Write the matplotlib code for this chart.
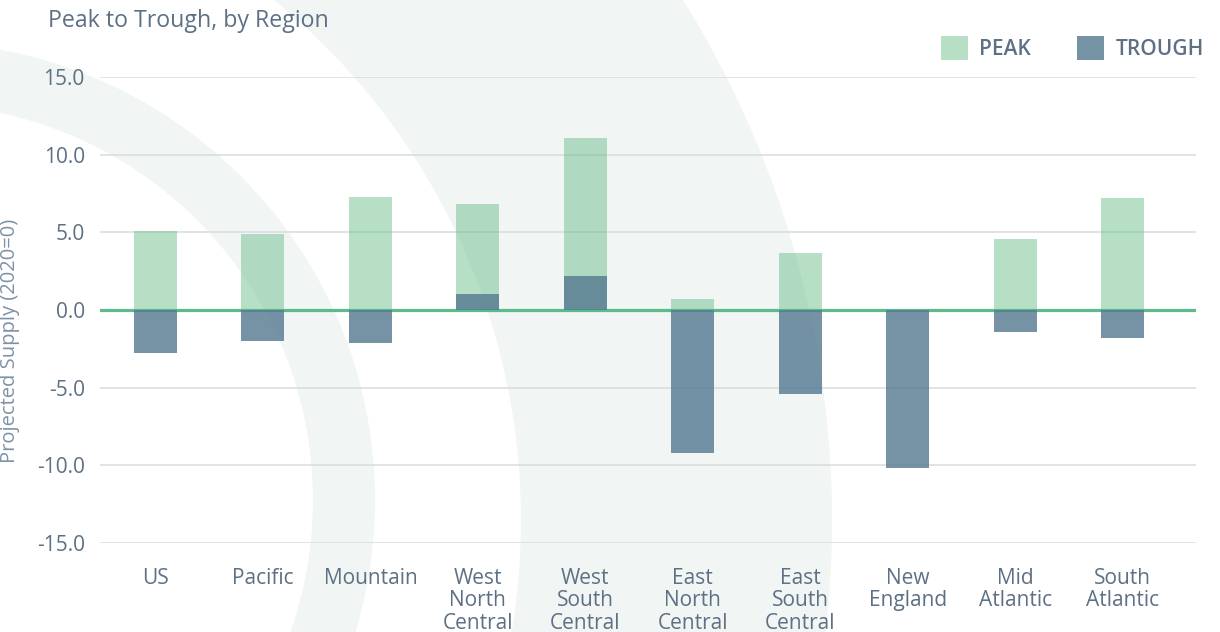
import matplotlib
matplotlib.use("Agg")
import matplotlib.pyplot as plt
from matplotlib.patches import Wedge
from matplotlib.ticker import FixedLocator, StrMethodFormatter

plt.rcParams['font.family'] = ['Open Sans', 'DejaVu Sans']
plt.rcParams['axes.unicode_minus'] = False

# ---- data ----
regions = ["US", "Pacific", "Mountain", "West\nNorth\nCentral", "West\nSouth\nCentral",
           "East\nNorth\nCentral", "East\nSouth\nCentral", "New\nEngland", "Mid\nAtlantic",
           "South\nAtlantic"]
peak = [5.1, 4.9, 7.3, 6.8, 11.1, 0.7, 3.7, 0.0, 4.6, 7.2]
trough = [-2.8, -2.0, -2.1, 1.0, 2.2, -9.2, -5.4, -10.2, -1.4, -1.8]
yticks = [-15, -10, -5, 0, 5, 10, 15]

TEXT = '#5d7084'
W, H = 1220, 632
fig = plt.figure(figsize=(W / 100, H / 100), dpi=100)

# decorative background arcs (pixel coordinates)
bg = fig.add_axes([0, 0, 1, 1], zorder=-5)
bg.set_xlim(0, W)
bg.set_ylim(H, 0)
bg.axis('off')
band = '#f1f5f4'
bg.add_patch(Wedge((-150, 520), 982, 0, 360, width=982 - 671, facecolor=band, edgecolor='none'))
bg.add_patch(Wedge((-83, 500), 458, 0, 360, width=458 - 396, facecolor=band, edgecolor='none'))

ax = fig.add_axes([100 / W, 1 - 543 / H, 1096 / W, 466 / H])
ax.patch.set_alpha(0)
x = list(range(len(regions)))

ax.bar(x, peak, width=0.40, color='#5fb881', alpha=0.45, label='PEAK', zorder=3,
       linewidth=0)
ax.bar(x, trough, width=0.40, color='#547890', alpha=0.80, label='TROUGH', zorder=4,
       linewidth=0)
ax.axhline(0, color='#5cbb8a', lw=2.3, zorder=2)

ax.set_xlim(-0.517, len(regions) - 1 + 0.684)
ax.set_ylim(-15, 15)
ax.yaxis.set_major_locator(FixedLocator(yticks))
ax.yaxis.set_major_formatter(StrMethodFormatter('{x:.1f}'))
ax.grid(axis='y', color='#d8dcdd', lw=1.1, zorder=0)
ax.set_axisbelow(True)
for s in ax.spines.values():
    s.set_visible(False)
ax.tick_params(axis='both', length=0, colors=TEXT, labelsize=15)
ax.tick_params(axis='y', pad=11)
ax.tick_params(axis='x', pad=18)
ax.set_xticks(x)
ax.set_xticklabels(regions, linespacing=1.08)

ax.set_ylabel('Projected Supply (2020=0)', color='#7d92a5', fontsize=14.5)
ax.yaxis.set_label_coords(20 / W, 1 - 341 / H, transform=fig.transFigure)

fig.text(48 / W, 1 - 21 / H, 'Peak to Trough, by Region', color=TEXT, fontsize=16.7,
         ha='left', va='center')

leg = ax.legend(loc='upper right', bbox_to_anchor=(1204 / W, 1 - 36 / H),
                bbox_transform=fig.transFigure, ncol=2, frameon=False,
                prop={'size': 15, 'weight': 'semibold'}, handlelength=1.3,
                handleheight=1.4, handletextpad=0.55, columnspacing=2.2,
                borderpad=0, borderaxespad=0)
for t in leg.get_texts():
    t.set_color(TEXT)

fig.savefig('out.png', dpi=100)
